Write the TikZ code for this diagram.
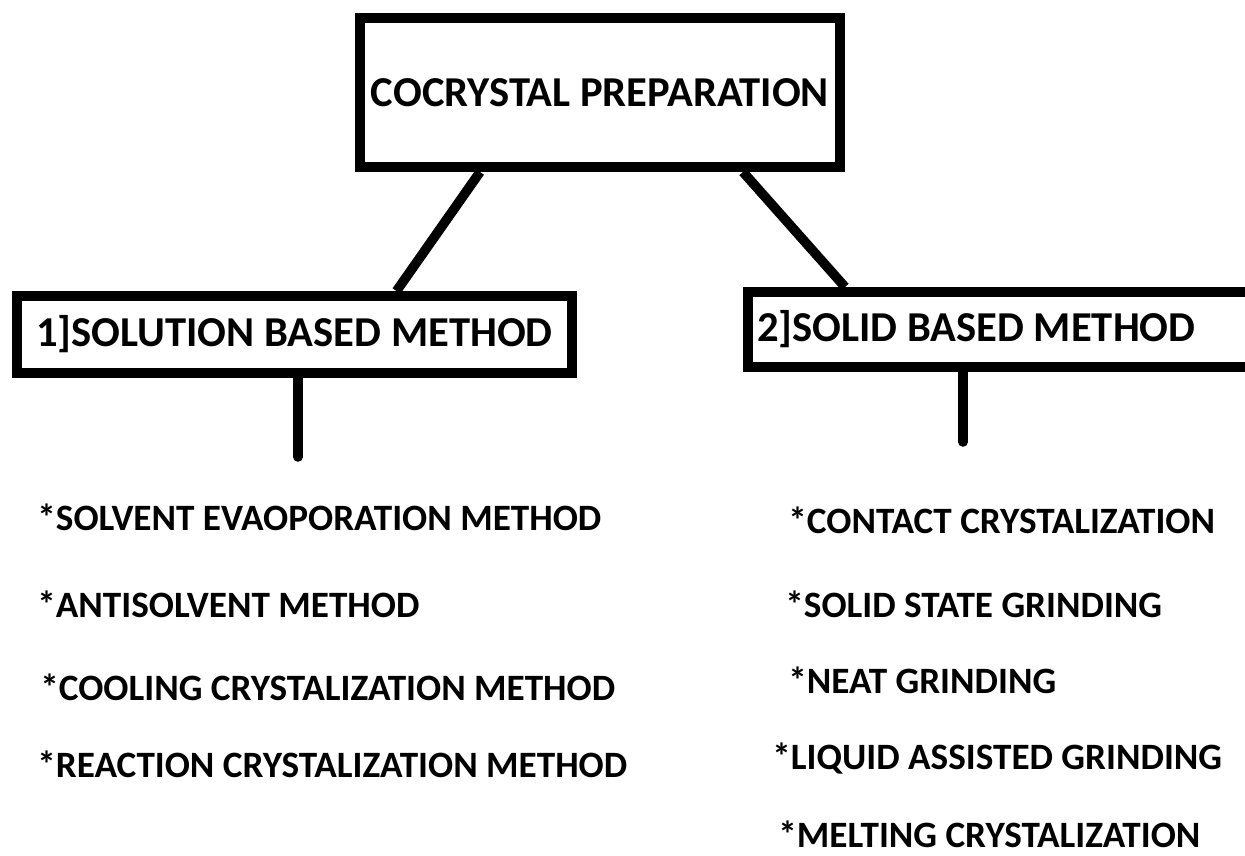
\documentclass[tikz,border=0pt]{standalone}
\usepackage{fontspec}
\setmainfont{Carlito}
\usepackage{tikz}

\tikzset{
  headbox/.style={draw, line width=5pt, inner sep=0pt, font=\fontsize{21.3}{25}\selectfont\bfseries},
  item/.style={inner sep=0pt, anchor=base west, font=\fontsize{18.6}{22}\selectfont\bfseries},
  link/.style={line width=4.8pt}
}

\begin{document}
\begin{tikzpicture}[x=0.5pt, y=-0.5pt]
    \useasboundingbox (0,0) rectangle (1245,855);
    \fill[white] (0,0) rectangle (1245,855);
    % boxes
    \node[headbox, minimum width=240pt, minimum height=74.5pt] (prep) at (600,92.5) {COCRYSTAL PREPARATION};
    \node[headbox, minimum width=277.5pt, minimum height=38.5pt] (solbox) at (294.5,334.5) {1]SOLUTION BASED METHOD};
    \node[headbox, anchor=west, minimum height=37.5pt, inner xsep=4.5pt, text width=249.5pt, align=flush left] (solidbox) at (743,329.5) {2]SOLID BASED METHOD};
    % connectors
    \draw[link] ([xshift=-60pt]prep.south) -- ([xshift=51pt]solbox.north);
    \draw[link] ([xshift=71.5pt]prep.south) -- ([xshift=51pt]solidbox.north west);
    \coordinate (solend) at (298,457);
    \coordinate (solidend) at (963,442);
    \draw[link, line cap=round] (solbox.south -| solend) -- (solend);
    \draw[link, line cap=round] (solidbox.south -| solidend) -- (solidend);
    % lists
    \foreach \i/\x/\y/\t in {1/37/530/SOLVENT EVAOPORATION METHOD,
                             2/37/617/ANTISOLVENT METHOD,
                             3/40/700/COOLING CRYSTALIZATION METHOD,
                             4/37/777/REACTION CRYSTALIZATION METHOD} {
        \node[item] (sol\i) at (\x,\y) {*\t};
      }
    \foreach \i/\x/\y/\t in {1/788/533/CONTACT CRYSTALIZATION,
                             2/785/617/SOLID STATE GRINDING,
                             3/788/693/NEAT GRINDING,
                             4/772/769/LIQUID ASSISTED GRINDING,
                             5/778/847/MELTING CRYSTALIZATION} {
        \node[item] (solid\i) at (\x,\y) {*\t};
      }
  \end{tikzpicture}
\end{document}
